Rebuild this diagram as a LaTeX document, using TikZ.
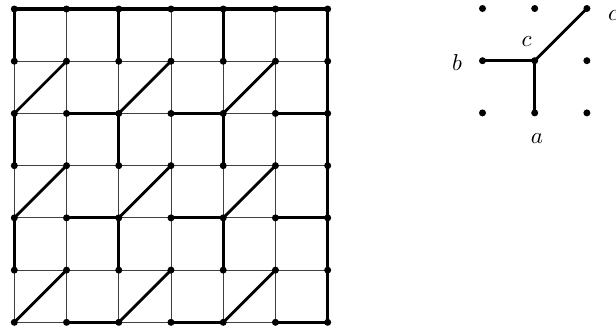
\documentclass[tikz,border=0pt]{standalone}
\newcommand{\biglab}[1]{\scalebox{2.3}{$#1$}}
\begin{document}
\begin{tikzpicture}[x=1pt,y=-1pt,
  thin grid/.style={line width=0.8pt, draw=black!75},
  thick edge/.style={line width=2.8pt, line cap=round},
  border edge/.style={line width=3.4pt, line cap=round},
  dot/.style={circle, fill=black, inner sep=0pt, minimum size=7pt},
  lab/.style={anchor=base, inner sep=0pt}]
\clip (0,0) rectangle (616,327);
\useasboundingbox (0,0) rectangle (616,327);
% grid coordinates
\foreach \i in {0,...,6}{
  \foreach \j in {0,...,6}{
    \coordinate (p-\i-\j) at ({14.3+52.23*\i},{9+52.22*(6-\j)});
  }
}
% thin grid lines
\foreach \k in {0,...,6}{
  \draw[thin grid] (p-\k-0) -- (p-\k-6);
  \draw[thin grid] (p-0-\k) -- (p-6-\k);
}
% border
\draw[border edge] (p-0-5) -- (p-0-6) -- (p-6-6) -- (p-6-0);
% vertical thick edges
\foreach \a/\b in {0-6/0-5, 2-6/2-5, 4-6/4-5,
                   0-4/0-3, 2-4/2-3, 4-4/4-3,
                   0-2/0-1, 2-2/2-1, 4-2/4-1}
  \draw[thick edge] (p-\a) -- (p-\b);
% horizontal thick edges
\foreach \a/\b in {1-4/2-4, 3-4/4-4, 5-4/6-4,
                   1-2/2-2, 3-2/4-2, 5-2/6-2,
                   1-0/2-0, 3-0/4-0, 5-0/6-0}
  \draw[thick edge] (p-\a) -- (p-\b);
% diagonal thick edges
\foreach \a/\b in {0-4/1-5, 2-4/3-5, 4-4/5-5,
                   0-2/1-3, 2-2/3-3, 4-2/5-3,
                   0-0/1-1, 2-0/3-1, 4-0/5-1}
  \draw[thick edge] (p-\a) -- (p-\b);
% dots
\foreach \i in {0,...,6}{
  \foreach \j in {0,...,6}{
    \node[dot] (d-\i-\j) at (p-\i-\j) {};
  }
}
% right figure
\foreach \i in {0,1,2}{
  \foreach \j in {0,1,2}{
    \node[dot] (q-\i-\j) at ({482.5+52.2*\i},{8.5+52.2*(2-\j)}) {};
  }
}
\draw[thick edge] (q-0-1.center) -- (q-1-1.center);
\draw[thick edge] (q-1-1.center) -- (q-1-0.center);
\draw[thick edge] (q-1-1.center) -- (q-2-2.center);
\node[lab] (lb) at (457,70) {\biglab{b}};
\node[lab] (lc) at (526.5,46.5) {\biglab{c}};
\node[lab] (la) at (537,143) {\biglab{a}};
\node[lab] (ld) at (613,20) {\biglab{c}};
\end{tikzpicture}
\end{document}
